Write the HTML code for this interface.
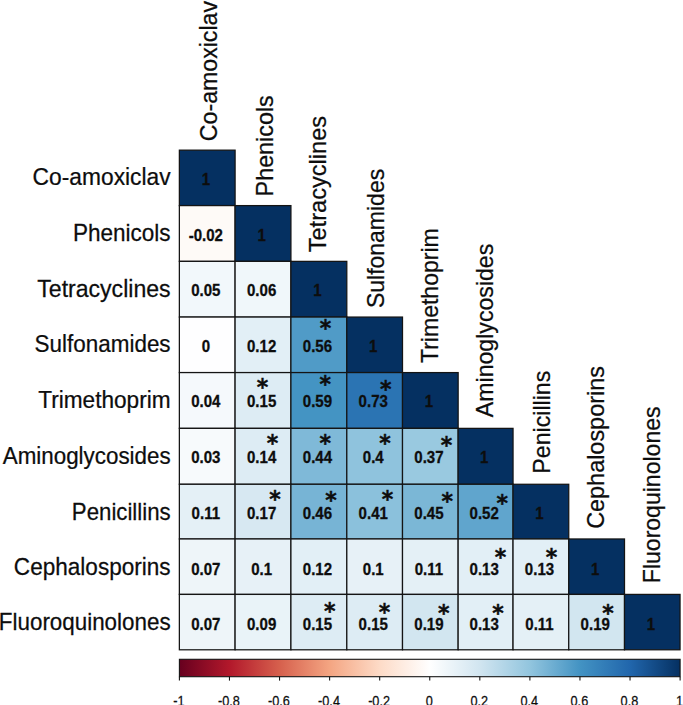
<!DOCTYPE html>
<html lang="en"><head><meta charset="utf-8"><title>Correlation matrix</title>
<style>html,body{margin:0;padding:0;background:#fff}svg{display:block}text{font-family:"Liberation Sans",sans-serif;fill:#0d0d0d}.lab{font-size:24.0px;stroke:#0d0d0d;stroke-width:.25px}.clab{font-size:23.4px}.num{font-size:16.9px;font-weight:bold;text-anchor:middle;stroke:#0d0d0d;stroke-width:.3px}.st{font-family:"DejaVu Sans",sans-serif;font-weight:bold;font-size:22.0px;text-anchor:middle;stroke:#0d0d0d;stroke-width:.4px}.cb{font-size:14.6px;text-anchor:middle;stroke:#0d0d0d;stroke-width:.25px}</style></head><body>
<svg width="683" height="705" viewBox="0 0 683 705">
<rect width="683" height="705" fill="#fff"/>
<defs><linearGradient id="g" x1="0" x2="1" y1="0" y2="0">
<stop offset="0%" stop-color="#67001F"/>
<stop offset="10%" stop-color="#B2182B"/>
<stop offset="20%" stop-color="#D6604D"/>
<stop offset="30%" stop-color="#F4A582"/>
<stop offset="40%" stop-color="#FDDBC7"/>
<stop offset="50%" stop-color="#FFFFFF"/>
<stop offset="60%" stop-color="#D1E5F0"/>
<stop offset="70%" stop-color="#92C5DE"/>
<stop offset="80%" stop-color="#4393C3"/>
<stop offset="90%" stop-color="#2166AC"/>
<stop offset="100%" stop-color="#053061"/>
</linearGradient></defs>
<g stroke="#141414" stroke-width="1.25">
<rect x="179.36" y="150.15" width="55.74" height="55.45" fill="#053061"/>
<rect x="179.36" y="205.60" width="55.74" height="55.76" fill="#fefaf7"/>
<rect x="235.10" y="205.60" width="55.83" height="55.76" fill="#053061"/>
<rect x="179.36" y="261.36" width="55.74" height="55.70" fill="#f2f8fb"/>
<rect x="235.10" y="261.36" width="55.83" height="55.70" fill="#f0f7fa"/>
<rect x="290.93" y="261.36" width="55.88" height="55.70" fill="#053061"/>
<rect x="179.36" y="317.06" width="55.74" height="55.52" fill="#fefeff"/>
<rect x="235.10" y="317.06" width="55.83" height="55.52" fill="#e2eff6"/>
<rect x="290.93" y="317.06" width="55.88" height="55.52" fill="#509bc7"/>
<rect x="346.81" y="317.06" width="55.69" height="55.52" fill="#053061"/>
<rect x="179.36" y="372.58" width="55.74" height="55.78" fill="#f5f9fc"/>
<rect x="235.10" y="372.58" width="55.83" height="55.78" fill="#ddecf4"/>
<rect x="290.93" y="372.58" width="55.88" height="55.78" fill="#4494c3"/>
<rect x="346.81" y="372.58" width="55.69" height="55.78" fill="#2b74b3"/>
<rect x="402.50" y="372.58" width="55.65" height="55.78" fill="#053061"/>
<rect x="179.36" y="428.36" width="55.74" height="55.91" fill="#f7fafc"/>
<rect x="235.10" y="428.36" width="55.83" height="55.91" fill="#ddecf4"/>
<rect x="290.93" y="428.36" width="55.88" height="55.91" fill="#7fb9d8"/>
<rect x="346.81" y="428.36" width="55.69" height="55.91" fill="#8fc3dd"/>
<rect x="402.50" y="428.36" width="55.65" height="55.91" fill="#99c9e0"/>
<rect x="458.15" y="428.36" width="54.90" height="55.91" fill="#053061"/>
<rect x="179.36" y="484.27" width="55.74" height="54.70" fill="#e4f0f6"/>
<rect x="235.10" y="484.27" width="55.83" height="54.70" fill="#d7e8f2"/>
<rect x="290.93" y="484.27" width="55.88" height="54.70" fill="#77b4d5"/>
<rect x="346.81" y="484.27" width="55.69" height="54.70" fill="#8bc1dc"/>
<rect x="402.50" y="484.27" width="55.65" height="54.70" fill="#7bb7d6"/>
<rect x="458.15" y="484.27" width="54.90" height="54.70" fill="#60a5cd"/>
<rect x="513.05" y="484.27" width="55.70" height="54.70" fill="#053061"/>
<rect x="179.36" y="538.97" width="55.74" height="55.43" fill="#eef5f9"/>
<rect x="235.10" y="538.97" width="55.83" height="55.43" fill="#e7f1f7"/>
<rect x="290.93" y="538.97" width="55.88" height="55.43" fill="#e2eff6"/>
<rect x="346.81" y="538.97" width="55.69" height="55.43" fill="#e7f1f7"/>
<rect x="402.50" y="538.97" width="55.65" height="55.43" fill="#e4f0f6"/>
<rect x="458.15" y="538.97" width="54.90" height="55.43" fill="#e2eff6"/>
<rect x="513.05" y="538.97" width="55.70" height="55.43" fill="#e2eff6"/>
<rect x="568.75" y="538.97" width="55.75" height="55.43" fill="#053061"/>
<rect x="179.36" y="594.40" width="55.74" height="55.40" fill="#eef5f9"/>
<rect x="235.10" y="594.40" width="55.83" height="55.40" fill="#e9f3f8"/>
<rect x="290.93" y="594.40" width="55.88" height="55.40" fill="#ddecf4"/>
<rect x="346.81" y="594.40" width="55.69" height="55.40" fill="#ddecf4"/>
<rect x="402.50" y="594.40" width="55.65" height="55.40" fill="#d2e6f0"/>
<rect x="458.15" y="594.40" width="54.90" height="55.40" fill="#e2eff6"/>
<rect x="513.05" y="594.40" width="55.70" height="55.40" fill="#e4f0f6"/>
<rect x="568.75" y="594.40" width="55.75" height="55.40" fill="#d2e6f0"/>
<rect x="624.50" y="594.40" width="55.55" height="55.40" fill="#053061"/>
</g>
<text class="num" transform="translate(205.83 185.47) scale(0.89 1)">1</text>
<text class="num" transform="translate(205.83 241.08) scale(0.89 1)">-0.02</text>
<text class="num" transform="translate(261.62 241.08) scale(0.89 1)">1</text>
<text class="num" transform="translate(205.83 295.61) scale(0.89 1)">0.05</text>
<text class="num" transform="translate(261.62 295.61) scale(0.89 1)">0.06</text>
<text class="num" transform="translate(317.47 295.61) scale(0.89 1)">1</text>
<text class="num" transform="translate(205.83 351.72) scale(0.89 1)">0</text>
<text class="num" transform="translate(261.62 351.72) scale(0.89 1)">0.12</text>
<text class="num" transform="translate(317.47 351.72) scale(0.89 1)">0.56</text>
<text class="st" transform="translate(325.50 336.06) scale(1 1.05)">*</text>
<text class="num" transform="translate(373.25 351.72) scale(0.89 1)">1</text>
<text class="num" transform="translate(205.83 407.27) scale(0.89 1)">0.04</text>
<text class="num" transform="translate(261.62 407.27) scale(0.89 1)">0.15</text>
<text class="st" transform="translate(262.50 395.36) scale(1 1.05)">*</text>
<text class="num" transform="translate(317.47 407.27) scale(0.89 1)">0.59</text>
<text class="st" transform="translate(325.20 392.26) scale(1 1.05)">*</text>
<text class="num" transform="translate(373.25 407.27) scale(0.89 1)">0.73</text>
<text class="st" transform="translate(385.70 396.76) scale(1 1.05)">*</text>
<text class="num" transform="translate(428.93 407.27) scale(0.89 1)">1</text>
<text class="num" transform="translate(205.83 463.12) scale(0.89 1)">0.03</text>
<text class="num" transform="translate(261.62 463.12) scale(0.89 1)">0.14</text>
<text class="st" transform="translate(272.50 451.36) scale(1 1.05)">*</text>
<text class="num" transform="translate(317.47 463.12) scale(0.89 1)">0.44</text>
<text class="st" transform="translate(325.30 451.36) scale(1 1.05)">*</text>
<text class="num" transform="translate(373.25 463.12) scale(0.89 1)">0.4</text>
<text class="st" transform="translate(385.00 451.26) scale(1 1.05)">*</text>
<text class="num" transform="translate(428.93 463.12) scale(0.89 1)">0.37</text>
<text class="st" transform="translate(446.60 452.96) scale(1 1.05)">*</text>
<text class="num" transform="translate(484.20 463.12) scale(0.89 1)">1</text>
<text class="num" transform="translate(205.83 519.22) scale(0.89 1)">0.11</text>
<text class="num" transform="translate(261.62 519.22) scale(0.89 1)">0.17</text>
<text class="st" transform="translate(274.90 506.76) scale(1 1.05)">*</text>
<text class="num" transform="translate(317.47 519.22) scale(0.89 1)">0.46</text>
<text class="st" transform="translate(330.90 508.06) scale(1 1.05)">*</text>
<text class="num" transform="translate(373.25 519.22) scale(0.89 1)">0.41</text>
<text class="st" transform="translate(387.40 506.76) scale(1 1.05)">*</text>
<text class="num" transform="translate(428.93 519.22) scale(0.89 1)">0.45</text>
<text class="st" transform="translate(447.20 508.76) scale(1 1.05)">*</text>
<text class="num" transform="translate(484.20 519.22) scale(0.89 1)">0.52</text>
<text class="st" transform="translate(502.20 510.56) scale(1 1.05)">*</text>
<text class="num" transform="translate(539.50 519.22) scale(0.89 1)">1</text>
<text class="num" transform="translate(205.83 574.78) scale(0.89 1)">0.07</text>
<text class="num" transform="translate(261.62 574.78) scale(0.89 1)">0.1</text>
<text class="num" transform="translate(317.47 574.78) scale(0.89 1)">0.12</text>
<text class="num" transform="translate(373.25 574.78) scale(0.89 1)">0.1</text>
<text class="num" transform="translate(428.93 574.78) scale(0.89 1)">0.11</text>
<text class="num" transform="translate(484.20 574.78) scale(0.89 1)">0.13</text>
<text class="st" transform="translate(500.40 565.01) scale(1 1.05)">*</text>
<text class="num" transform="translate(539.50 574.78) scale(0.89 1)">0.13</text>
<text class="st" transform="translate(551.40 565.01) scale(1 1.05)">*</text>
<text class="num" transform="translate(595.23 574.78) scale(0.89 1)">1</text>
<text class="num" transform="translate(205.83 629.70) scale(0.89 1)">0.07</text>
<text class="num" transform="translate(261.62 629.70) scale(0.89 1)">0.09</text>
<text class="num" transform="translate(317.47 629.70) scale(0.89 1)">0.15</text>
<text class="st" transform="translate(329.70 618.56) scale(1 1.05)">*</text>
<text class="num" transform="translate(373.25 629.70) scale(0.89 1)">0.15</text>
<text class="st" transform="translate(384.40 619.76) scale(1 1.05)">*</text>
<text class="num" transform="translate(428.93 629.70) scale(0.89 1)">0.19</text>
<text class="st" transform="translate(443.70 621.01) scale(1 1.05)">*</text>
<text class="num" transform="translate(484.20 629.70) scale(0.89 1)">0.13</text>
<text class="st" transform="translate(497.90 621.01) scale(1 1.05)">*</text>
<text class="num" transform="translate(539.50 629.70) scale(0.89 1)">0.11</text>
<text class="num" transform="translate(595.23 629.70) scale(0.89 1)">0.19</text>
<text class="st" transform="translate(607.90 620.51) scale(1 1.05)">*</text>
<text class="num" transform="translate(650.88 629.70) scale(0.89 1)">1</text>
<text class="lab" text-anchor="end" transform="translate(170.6 185.28) scale(0.9496 1)">Co-amoxiclav</text>
<text class="lab" text-anchor="end" transform="translate(170.6 240.88) scale(0.9391 1)">Phenicols</text>
<text class="lab" text-anchor="end" transform="translate(170.6 296.61) scale(0.9615 1)">Tetracyclines</text>
<text class="lab" text-anchor="end" transform="translate(170.6 352.22) scale(0.9356 1)">Sulfonamides</text>
<text class="lab" text-anchor="end" transform="translate(170.6 407.87) scale(0.9432 1)">Trimethoprim</text>
<text class="lab" text-anchor="end" transform="translate(170.6 463.71) scale(0.9323 1)">Aminoglycosides</text>
<text class="lab" text-anchor="end" transform="translate(170.6 519.52) scale(0.9257 1)">Penicillins</text>
<text class="lab" text-anchor="end" transform="translate(170.6 574.58) scale(0.9404 1)">Cephalosporins</text>
<text class="lab" text-anchor="end" transform="translate(170.6 629.50) scale(0.9334 1)">Fluoroquinolones</text>
<text class="lab clab" transform="translate(217.03 141.15) rotate(-90) scale(0.9890 1)">Co-amoxiclav</text>
<text class="lab clab" transform="translate(272.62 196.40) rotate(-90) scale(0.9980 1)">Phenicols</text>
<text class="lab clab" transform="translate(325.87 252.36) rotate(-90) scale(1.0099 1)">Tetracyclines</text>
<text class="lab clab" transform="translate(383.55 308.06) rotate(-90) scale(0.9821 1)">Sulfonamides</text>
<text class="lab clab" transform="translate(438.02 363.08) rotate(-90) scale(0.9851 1)">Trimethoprim</text>
<text class="lab clab" transform="translate(493.10 417.16) rotate(-90) scale(0.9885 1)">Aminoglycosides</text>
<text class="lab clab" transform="translate(550.40 473.67) rotate(-90) scale(0.9900 1)">Penicillins</text>
<text class="lab clab" transform="translate(603.73 528.87) rotate(-90) scale(1.0019 1)">Cephalosporins</text>
<text class="lab clab" transform="translate(660.38 583.20) rotate(-90) scale(0.9851 1)">Fluoroquinolones</text>
<rect x="179.40" y="659.30" width="500.70" height="17.40" fill="url(#g)" stroke="#141414" stroke-width="1.1"/>
<line x1="179.40" x2="179.40" y1="676.70" y2="680.6" stroke="#141414" stroke-width="1.1"/>
<text class="cb" transform="translate(178.80 705.7) scale(0.87 1)">-1</text>
<line x1="229.47" x2="229.47" y1="676.70" y2="680.6" stroke="#141414" stroke-width="1.1"/>
<text class="cb" transform="translate(228.87 705.7) scale(0.87 1)">-0.8</text>
<line x1="279.54" x2="279.54" y1="676.70" y2="680.6" stroke="#141414" stroke-width="1.1"/>
<text class="cb" transform="translate(278.94 705.7) scale(0.87 1)">-0.6</text>
<line x1="329.61" x2="329.61" y1="676.70" y2="680.6" stroke="#141414" stroke-width="1.1"/>
<text class="cb" transform="translate(329.01 705.7) scale(0.87 1)">-0.4</text>
<line x1="379.68" x2="379.68" y1="676.70" y2="680.6" stroke="#141414" stroke-width="1.1"/>
<text class="cb" transform="translate(379.08 705.7) scale(0.87 1)">-0.2</text>
<line x1="429.75" x2="429.75" y1="676.70" y2="680.6" stroke="#141414" stroke-width="1.1"/>
<text class="cb" transform="translate(429.15 705.7) scale(0.87 1)">0</text>
<line x1="479.82" x2="479.82" y1="676.70" y2="680.6" stroke="#141414" stroke-width="1.1"/>
<text class="cb" transform="translate(479.22 705.7) scale(0.87 1)">0.2</text>
<line x1="529.89" x2="529.89" y1="676.70" y2="680.6" stroke="#141414" stroke-width="1.1"/>
<text class="cb" transform="translate(529.29 705.7) scale(0.87 1)">0.4</text>
<line x1="579.96" x2="579.96" y1="676.70" y2="680.6" stroke="#141414" stroke-width="1.1"/>
<text class="cb" transform="translate(579.36 705.7) scale(0.87 1)">0.6</text>
<line x1="630.03" x2="630.03" y1="676.70" y2="680.6" stroke="#141414" stroke-width="1.1"/>
<text class="cb" transform="translate(629.43 705.7) scale(0.87 1)">0.8</text>
<line x1="680.10" x2="680.10" y1="676.70" y2="680.6" stroke="#141414" stroke-width="1.1"/>
<text class="cb" transform="translate(679.50 705.7) scale(0.87 1)">1</text>
</svg></body></html>
